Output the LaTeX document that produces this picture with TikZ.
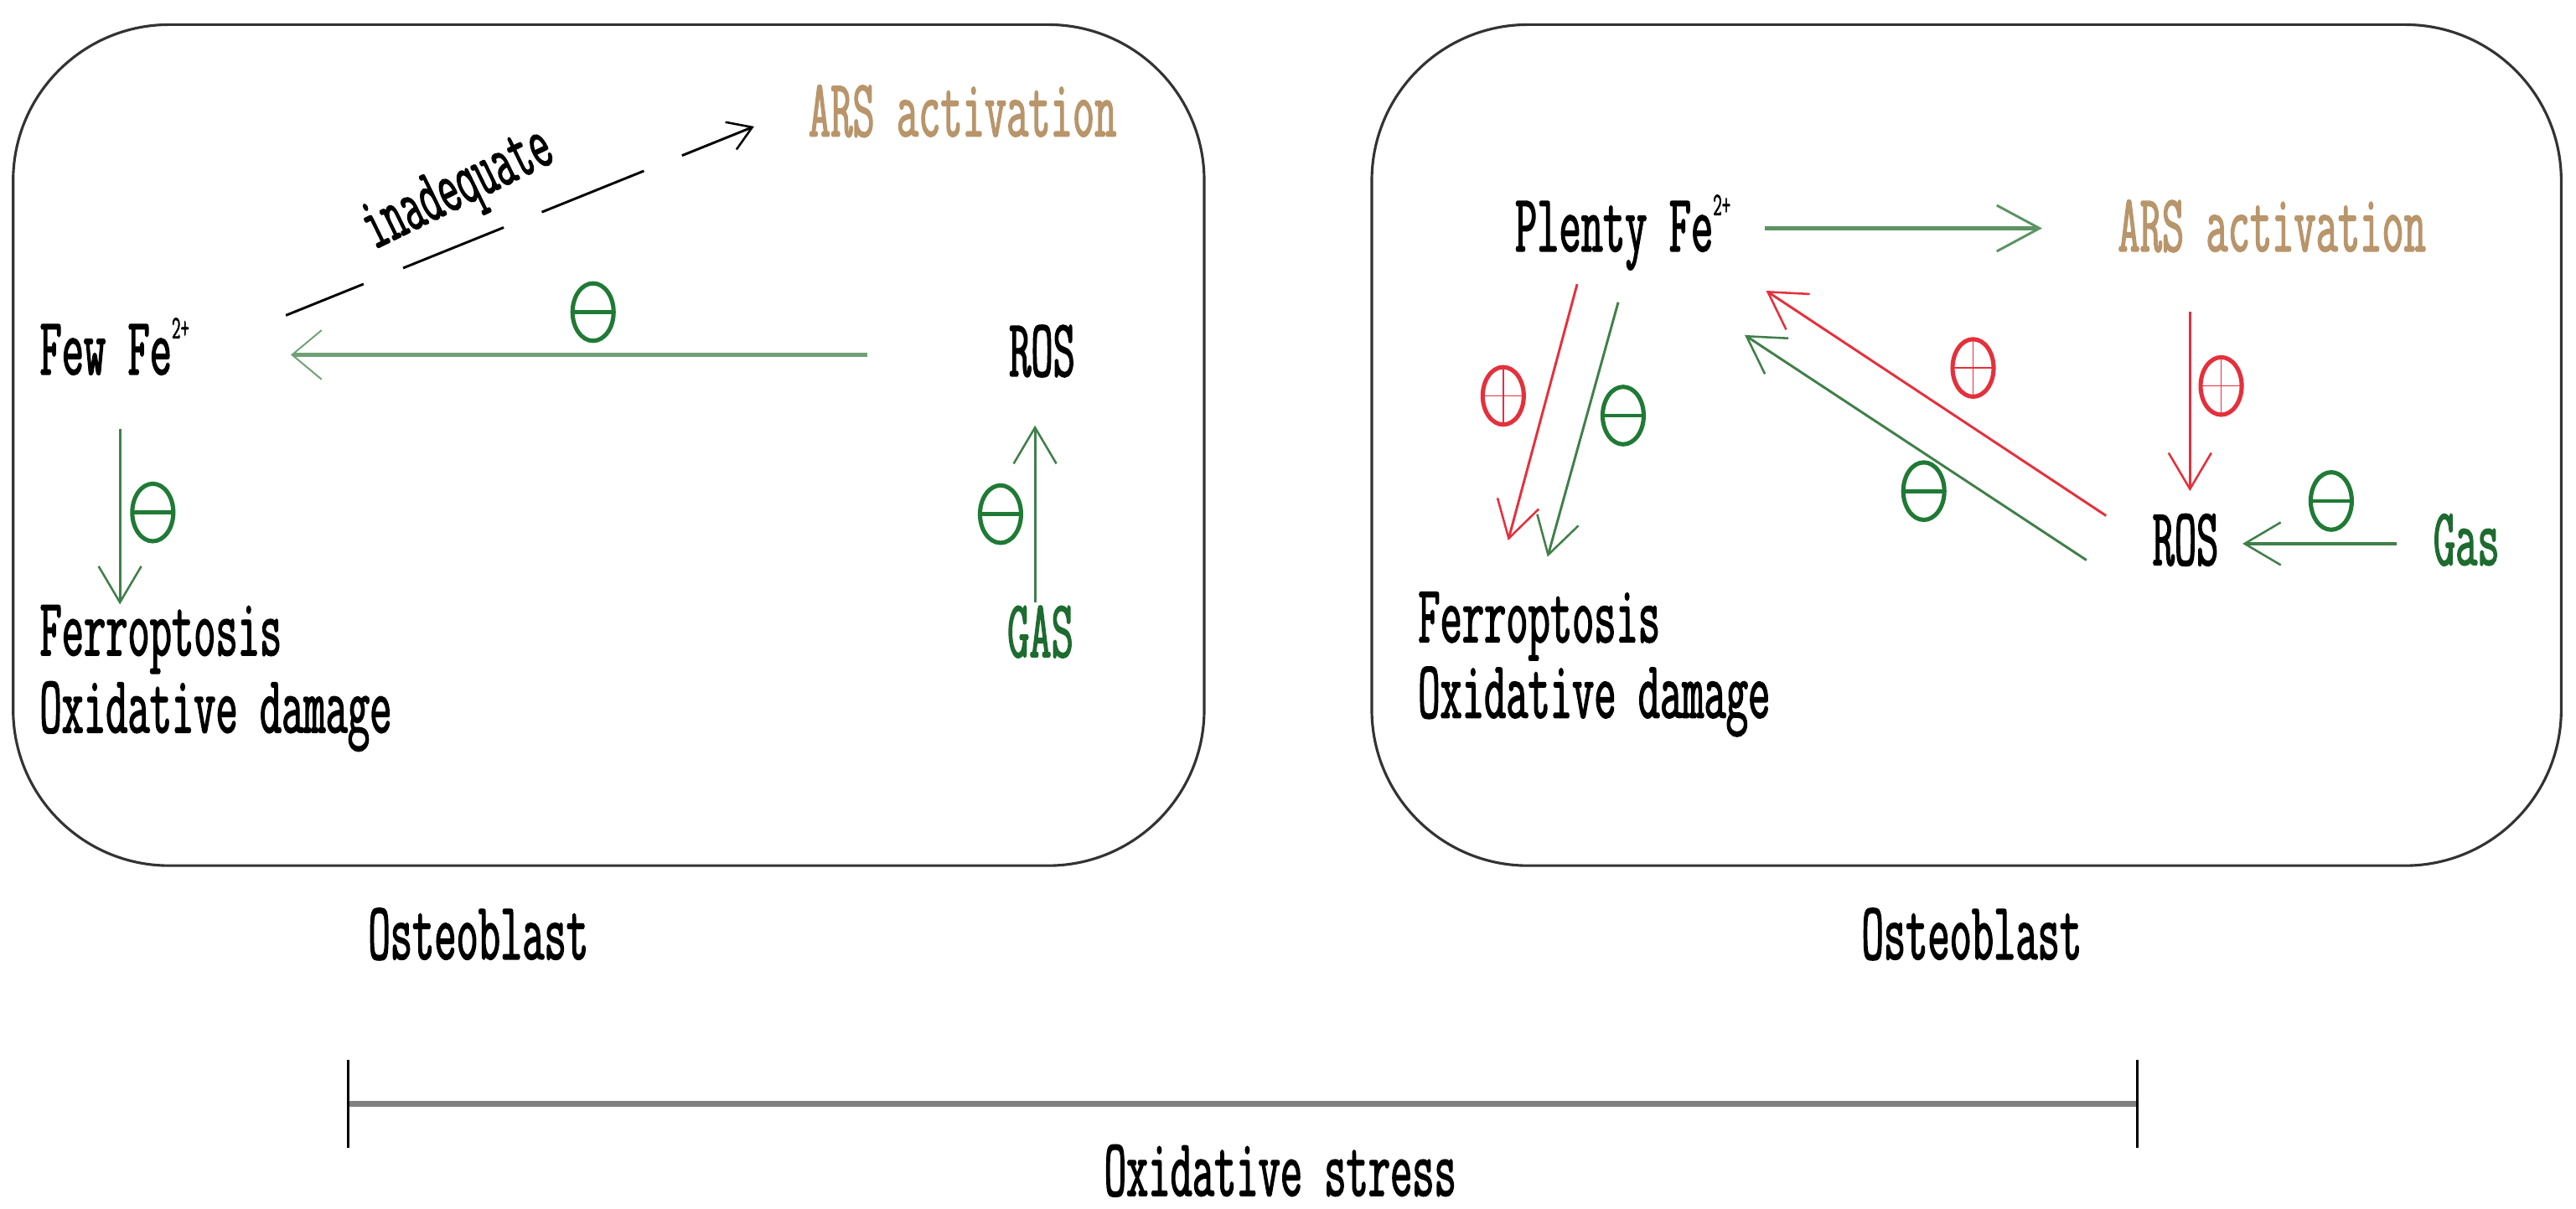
\documentclass[tikz,border=0pt]{standalone}
\usepackage{fontspec}
\newfontfamily\rf{Latin Modern Mono}[FakeStretch=0.52,FakeBold=1.4]
\usetikzlibrary{arrows.meta,shapes.geometric}
\definecolor{gtxt}{HTML}{1E6B30}
\definecolor{gsym}{HTML}{1F7A35}
\definecolor{gline}{HTML}{3F8049}
\definecolor{glight}{HTML}{6FA175}
\definecolor{rline}{HTML}{E5303C}
\definecolor{tan}{HTML}{B8956A}
\definecolor{boxc}{HTML}{333333}
\tikzset{
  txt/.style={font=\rf\fontsize{50}{52}\selectfont, inner sep=0pt, anchor=base west},
  cellbox/.style={draw=boxc, line width=1.6pt, rounded corners=95pt},
  arr/.style={line width=1.5pt, -{Straight Barb[length=22pt,width=26pt,line width=1.3pt]}},
  garr/.style={arr, draw=gline},
  rarr/.style={arr, draw=rline},
  symb/.style={ellipse, draw, line width=2.6pt, minimum width=25pt, minimum height=35pt, inner sep=0pt},
  minus/.style={symb, draw=gsym, path picture={\draw[gsym, line width=2.4pt] (path picture bounding box.west) -- (path picture bounding box.east);}},
  plus/.style={symb, draw=rline, path picture={\draw[rline, line width=0.8pt] (path picture bounding box.west) -- (path picture bounding box.east) (path picture bounding box.north) -- (path picture bounding box.south);}},
}
\newcommand{\sups}{\raisebox{22pt}{\fontsize{20}{20}\selectfont 2+}}
\begin{document}
\begin{tikzpicture}[x=1pt,y=-1pt]
\useasboundingbox (0,0) rectangle (1568,736);
% boxes
\draw[cellbox] (8,15) rectangle (733,527);
\draw[cellbox] (835,15) rectangle (1559,527);

% ---------- left panel texts
\node[txt, text=tan] (ars1) at (492,83) {ARS activation};
\node[txt] (fewfe) at (24,228) {Few Fe\sups};
\node[txt] (ros1) at (614,229) {ROS};
\node[txt] (fer1) at (24,399) {Ferroptosis};
\node[txt] (oxd1) at (24,446) {Oxidative damage};
\node[txt, text=gtxt] (gas1) at (613,400) {GAS};
\node[txt] (ost1) at (224,584) {Osteoblast};

% left connectors
\coordinate (d1s) at (174,192);
\coordinate (d1e) at (459,77);
\draw[line width=1.5pt, dash pattern=on 51pt off 26pt on 66pt off 25pt on 67pt off 25pt on 70pt off 10pt, -{Straight Barb[length=14pt,width=18pt,line width=1.3pt]}] (d1s) -- (d1e);
\node[font=\rf\fontsize{46}{48}\selectfont, inner sep=0pt, rotate=26, anchor=base west] (inad) at (228,152) {inadequate};

\coordinate (a2s) at (528,216);
\coordinate (a2e) at (177,216);
\draw[line width=2.6pt, draw=glight, -{Straight Barb[length=18pt,width=30pt,line width=1pt]}] (a2s) -- (a2e);
\node[minus] (m1) at (361,190) {};

\coordinate (a3s) at (73,261);
\coordinate (a3e) at (73,368);
\draw[garr] (a3s) -- (a3e);
\node[minus] (m2) at (93,312) {};

\coordinate (a4s) at (630,367);
\coordinate (a4e) at (630,259);
\draw[garr] (a4s) -- (a4e);
\node[minus] (m3) at (609,313) {};

% ---------- right panel texts
\node[txt] (plenty) at (922,153) {Plenty Fe\sups};
\node[txt, text=tan] (ars2) at (1289,153) {ARS activation};
\node[txt] (ros2) at (1310,344) {ROS};
\node[txt, text=gtxt] (gas2) at (1481,344) {Gas};
\node[txt] (fer2) at (863,391) {Ferroptosis};
\node[txt] (oxd2) at (863,437) {Oxidative damage};
\node[txt] (ost2) at (1133,584) {Osteoblast};

% right connectors
\coordinate (b1s) at (1074,139);
\coordinate (b1e) at (1243,139);
\draw[line width=2.6pt, draw=gline!85!white, -{Straight Barb[length=26pt,width=28pt,line width=1.5pt]}] (b1s) -- (b1e);

\coordinate (b2s) at (960,173);
\coordinate (b2e) at (918,329);
\draw[rarr] (b2s) -- (b2e);
\node[plus] (p1) at (915,241) {};

\coordinate (b3s) at (985,184);
\coordinate (b3e) at (942,339);
\draw[garr] (b3s) -- (b3e);
\node[minus] (m4) at (988,253) {};

\coordinate (b4s) at (1282,314);
\coordinate (b4e) at (1075,177);
\draw[rarr] (b4s) -- (b4e);
\node[plus] (p2) at (1201,224) {};

\coordinate (b5s) at (1270,341);
\coordinate (b5e) at (1062,204);
\draw[garr] (b5s) -- (b5e);
\node[minus] (m5) at (1171,299) {};

\coordinate (b6s) at (1333,190);
\coordinate (b6e) at (1333,299);
\draw[rarr] (b6s) -- (b6e);
\node[plus] (p3) at (1352,235) {};

\coordinate (b7s) at (1459,331);
\coordinate (b7e) at (1365,331);
\draw[garr, line width=2.2pt] (b7s) -- (b7e);
\node[minus] (m6) at (1419,305) {};

% ---------- bottom scale
\coordinate (sl) at (212,672);
\coordinate (sr) at (1301,672);
\draw[line width=4pt, draw=black!50] (sl) -- (sr);
\draw[line width=1.2pt] ([yshift=-27pt]sl) -- ([yshift=27pt]sl);
\draw[line width=1.2pt] ([yshift=-27pt]sr) -- ([yshift=27pt]sr);
\node[txt] (stress) at (672,728) {Oxidative stress};
\end{tikzpicture}
\end{document}
